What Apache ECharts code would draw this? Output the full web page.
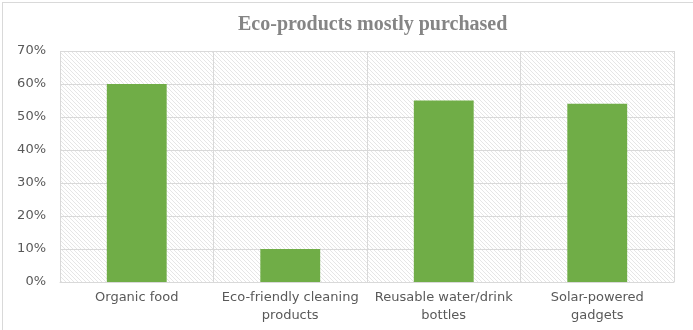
<!DOCTYPE html>
<html>
<head>
<meta charset="utf-8">
<script src="https://cdn.jsdelivr.net/npm/echarts@6/dist/echarts.min.js"></script>
<style>
  html, body { margin: 0; padding: 0; background: #ffffff; }
  #frame { position: absolute; left: 2px; top: 2px; width: 700px; height: 340px; border: 1px solid #d9d9d9; box-sizing: border-box; }
  #chart { position: absolute; left: 0; top: 0; width: 693px; height: 330px; }
</style>
</head>
<body>
<div id="frame"></div>
<div id="chart"></div>
<script>
// Share of respondents buying each kind of eco-product
const categories = ['Organic food', 'Eco-friendly cleaning products', 'Reusable water/drink bottles', 'Solar-powered gadgets'];
const tickLabels = ['Organic food', 'Eco-friendly cleaning\nproducts', 'Reusable water/drink\nbottles', 'Solar-powered\ngadgets'];
const shares = [60, 10, 55, 54];
const yTicks = [0, 10, 20, 30, 40, 50, 60, 70];

// Light diagonal hatch used as the plot-area fill
function hatch() {
  const c = document.createElement('canvas');
  c.width = 4; c.height = 4;
  const g = c.getContext('2d');
  g.fillStyle = '#ffffff';
  g.fillRect(0, 0, 4, 4);
  g.strokeStyle = '#e6e6e6';
  g.lineWidth = 1;
  g.beginPath();
  g.moveTo(-1, -1); g.lineTo(5, 5);
  g.moveTo(-1, 3); g.lineTo(1, 5);
  g.moveTo(3, -1); g.lineTo(5, 1);
  g.stroke();
  return c;
}

const chart = echarts.init(document.getElementById('chart'), null, { renderer: 'canvas' });
chart.setOption({
  animation: false,
  title: {
    text: 'Eco-products mostly purchased',
    left: 233,
    top: 10,
    textStyle: { fontFamily: 'Liberation Serif', fontWeight: 'bold', fontSize: 20, color: '#858585' }
  },
  grid: {
    left: 60, right: 19, top: 51, bottom: 48,
    show: true,
    borderWidth: 0,
    backgroundColor: { image: hatch(), repeat: 'repeat' }
  },
  xAxis: {
    type: 'category',
    data: categories,
    axisTick: { show: false },
    axisLine: { lineStyle: { color: '#d9d9d9', width: 1 } },
    splitLine: { show: true, interval: 0, lineStyle: { color: '#d9d9d9', width: 1 } },
    axisLabel: {
      interval: 0,
      color: '#595959',
      fontFamily: 'DejaVu Sans',
      fontSize: 13,
      lineHeight: 18,
      margin: 7,
      formatter: (v, i) => tickLabels[i]
    }
  },
  yAxis: {
    type: 'value',
    min: yTicks[0],
    max: yTicks[yTicks.length - 1],
    interval: 10,
    axisLine: { show: false },
    axisTick: { show: false },
    splitLine: { lineStyle: { color: '#d9d9d9', width: 1 } },
    axisLabel: {
      color: '#595959',
      fontFamily: 'DejaVu Sans',
      fontSize: 13,
      margin: 14,
      formatter: v => v + '%'
    }
  },
  series: [{
    type: 'bar',
    data: shares,
    barWidth: '39%',
    itemStyle: { color: '#70ad47' }
  }]
});
</script>
</body>
</html>
